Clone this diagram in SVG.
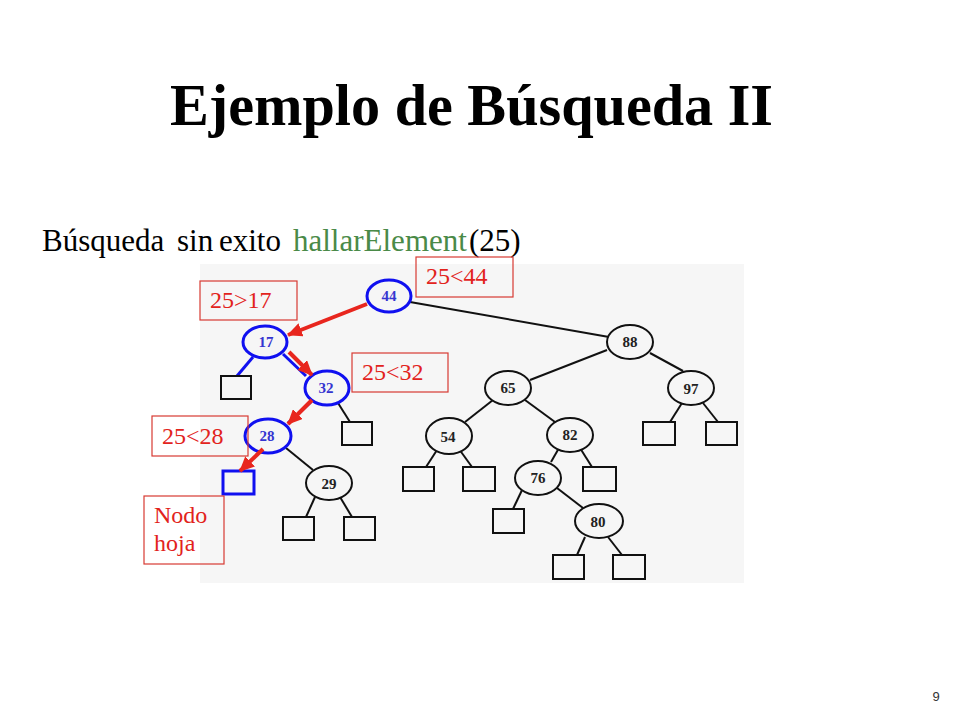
<svg xmlns="http://www.w3.org/2000/svg" width="960" height="720" viewBox="0 0 960 720">
<style>
.serif{font-family:"Liberation Serif","Times New Roman",serif}
.node ellipse{fill:#f6f6f6;stroke:#111;stroke-width:2}
.node text{font-family:"Liberation Serif","Times New Roman",serif;font-weight:bold;font-size:15px;fill:#222;text-anchor:middle}
.bnode ellipse{fill:#f6f6f6;stroke:#1010f0;stroke-width:3}
.bnode text{font-family:"Liberation Serif","Times New Roman",serif;font-weight:bold;font-size:15px;fill:#3535d0;text-anchor:middle}
.leaf{fill:#f6f6f6;stroke:#111;stroke-width:2}
.bleaf{fill:#f6f6f6;stroke:#1010f0;stroke-width:3}
.edge{stroke:#111;stroke-width:2;fill:none}
.bedge{stroke:#1010f0;stroke-width:3;fill:none}
.red{stroke:#e8261e;stroke-width:4;fill:none;marker-end:url(#ah)}
.lbox{fill:none;stroke:#d83a32;stroke-width:1.2}
.ltext{font-family:"Liberation Serif","Times New Roman",serif;font-size:24px;fill:#e2231c}
</style>
<defs>
<marker id="ah" markerUnits="userSpaceOnUse" markerWidth="16" markerHeight="14" refX="14" refY="7" orient="auto">
<path d="M0,0 L15,7 L0,14 Z" fill="#e8261e"/>
</marker>
</defs>
<rect width="960" height="720" fill="#ffffff"/>
<text font-family="Liberation Serif, Times New Roman, serif" x="170" y="125" font-size="60" font-weight="bold" textLength="603" lengthAdjust="spacingAndGlyphs" fill="#000">Ejemplo de Búsqueda II</text>
<text font-family="Liberation Serif, Times New Roman, serif" y="251" font-size="31" fill="#000"><tspan x="42">Búsqueda</tspan><tspan x="177">sin</tspan><tspan x="219">exito</tspan><tspan x="293" fill="#4a8a48">hallarElement</tspan><tspan x="469">(25)</tspan></text>
<text x="936" y="701" font-family="Liberation Sans, Arial, sans-serif" font-size="13" text-anchor="middle" fill="#333">9</text>
<rect x="200" y="264" width="544" height="319" fill="#f6f6f6"/>
<g id="connectors">
<line class="edge" x1="410" y1="302" x2="609" y2="337"/>
<line class="bedge" x1="253" y1="357" x2="237" y2="376"/>
<line class="bedge" x1="283" y1="354" x2="306" y2="376"/>
<line class="edge" x1="338" y1="403" x2="350" y2="422"/>
<line class="bedge" x1="311" y1="402" x2="288" y2="423"/>
<line class="edge" x1="286" y1="448" x2="313" y2="470"/>
<line class="edge" x1="315" y1="497" x2="306" y2="517"/>
<line class="edge" x1="340" y1="497" x2="352" y2="517"/>
<line class="edge" x1="607" y1="350" x2="530" y2="380"/>
<line class="edge" x1="650" y1="353" x2="683" y2="371"/>
<line class="edge" x1="493" y1="400" x2="465" y2="422"/>
<line class="edge" x1="525" y1="400" x2="555" y2="422"/>
<line class="edge" x1="682" y1="403" x2="670" y2="422"/>
<line class="edge" x1="703" y1="403" x2="718" y2="422"/>
<line class="edge" x1="437" y1="450" x2="426" y2="467"/>
<line class="edge" x1="459" y1="449" x2="472" y2="467"/>
<line class="edge" x1="559" y1="448" x2="551" y2="462"/>
<line class="edge" x1="580" y1="448" x2="592" y2="467"/>
<line class="edge" x1="523" y1="488" x2="513" y2="509"/>
<line class="edge" x1="557" y1="488" x2="583" y2="508"/>
<line class="edge" x1="585" y1="537" x2="577" y2="555"/>
<line class="edge" x1="608" y1="537" x2="622" y2="555"/>
</g>
<g id="n44" class="bnode"><ellipse cx="389" cy="296" rx="22" ry="16"/><text x="389" y="301">44</text></g>
<g id="n17" class="bnode"><ellipse cx="265" cy="342" rx="22" ry="16"/><text x="266" y="347">17</text></g>
<g id="n32" class="bnode"><ellipse cx="327" cy="388" rx="22" ry="17"/><text x="326" y="393">32</text></g>
<g id="n28" class="bnode"><ellipse cx="268" cy="436" rx="23" ry="17"/><text x="267" y="441">28</text></g>
<g id="n29" class="node"><ellipse cx="329" cy="483" rx="23" ry="17"/><text x="329" y="489">29</text></g>
<g id="n88" class="node"><ellipse cx="630" cy="342" rx="23" ry="17"/><text x="630" y="347">88</text></g>
<g id="n65" class="node"><ellipse cx="508" cy="388" rx="23" ry="17"/><text x="508" y="393">65</text></g>
<g id="n97" class="node"><ellipse cx="691" cy="388" rx="23" ry="17"/><text x="691" y="394">97</text></g>
<g id="n54" class="node"><ellipse cx="449" cy="436" rx="23" ry="18"/><text x="448" y="442">54</text></g>
<g id="n82" class="node"><ellipse cx="570" cy="435" rx="23" ry="17"/><text x="570" y="440">82</text></g>
<g id="n76" class="node"><ellipse cx="538" cy="478" rx="23" ry="17"/><text x="538" y="483">76</text></g>
<g id="n80" class="node"><ellipse cx="599" cy="521" rx="24" ry="17"/><text x="598" y="527">80</text></g>
<g id="leaves">
<rect id="l17" class="leaf" x="221" y="376" width="30" height="23"/>
<rect id="l32" class="leaf" x="342" y="422" width="30" height="23"/>
<rect id="l28" class="bleaf" x="223" y="471" width="31" height="23"/>
<rect id="l29a" class="leaf" x="283" y="517" width="31" height="23"/>
<rect id="l29b" class="leaf" x="344" y="517" width="31" height="23"/>
<rect id="l97a" class="leaf" x="643" y="422" width="32" height="23"/>
<rect id="l97b" class="leaf" x="706" y="422" width="31" height="23"/>
<rect id="l54a" class="leaf" x="403" y="467" width="31" height="24"/>
<rect id="l54b" class="leaf" x="463" y="467" width="32" height="24"/>
<rect id="l82" class="leaf" x="583" y="467" width="33" height="24"/>
<rect id="l76" class="leaf" x="493" y="509" width="31" height="24"/>
<rect id="l80a" class="leaf" x="553" y="555" width="31" height="24"/>
<rect id="l80b" class="leaf" x="613" y="555" width="32" height="24"/>
</g>
<g id="search-path">
<line class="red" x1="367" y1="304" x2="288" y2="335"/>
<line class="red" x1="289" y1="352" x2="312" y2="375"/>
<line class="red" x1="312" y1="400" x2="288" y2="424"/>
<line class="red" x1="263" y1="449" x2="240" y2="471"/>
</g>
<g id="lbl44"><rect class="lbox" x="416" y="257" width="97" height="40"/><text class="ltext" x="426" y="284">25&lt;44</text></g>
<g id="lbl17"><rect class="lbox" x="200" y="281" width="97" height="39"/><text class="ltext" x="210" y="308">25&gt;17</text></g>
<g id="lbl32"><rect class="lbox" x="352" y="353" width="96" height="39"/><text class="ltext" x="362" y="380">25&lt;32</text></g>
<g id="lbl28"><rect class="lbox" x="152" y="416" width="96" height="40"/><text class="ltext" x="162" y="444">25&lt;28</text></g>
<g id="lblleaf"><rect class="lbox" x="144" y="496" width="80" height="68"/><text class="ltext" x="154" y="523" font-size="22">Nodo</text><text class="ltext" x="154" y="551" font-size="22">hoja</text></g>
</svg>
